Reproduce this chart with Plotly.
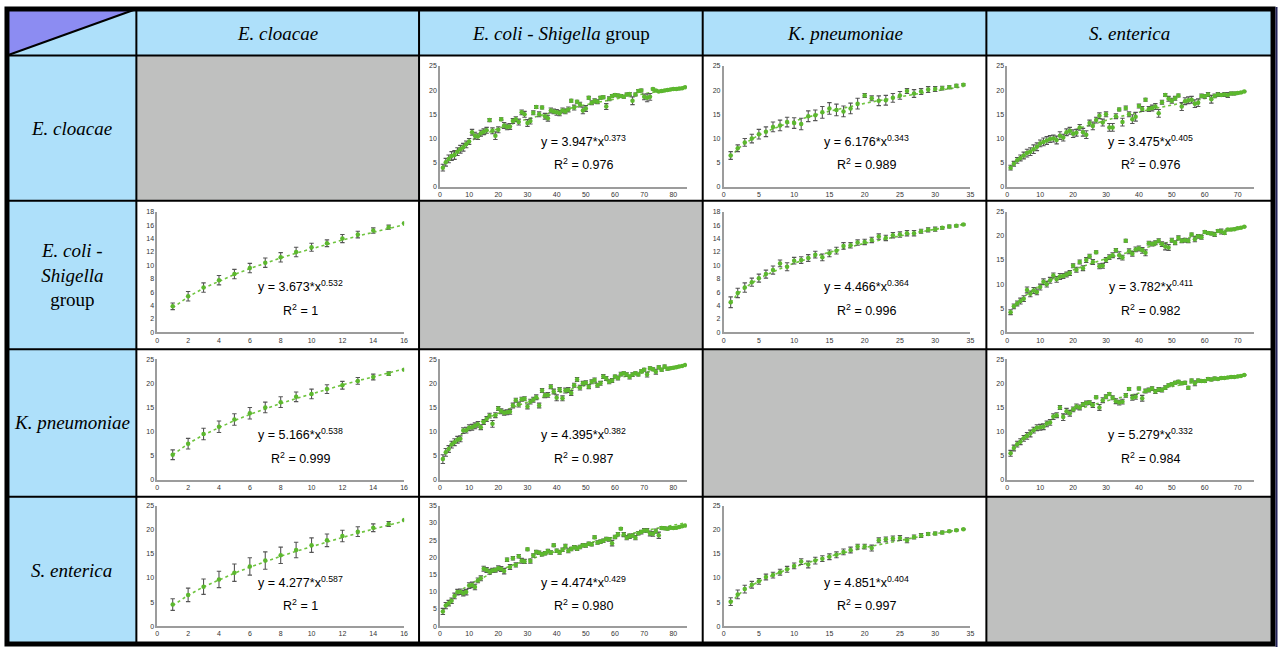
import numpy as np
import plotly.graph_objects as go

W, H = 1284, 654

# ---------------- labels ----------------
col_headers = ["<i>E. cloacae</i>", "<i>E. coli - Shigella</i> group",
               "<i>K. pneumoniae</i>", "<i>S. enterica</i>"]
row_headers = ["<i>E. cloacae</i>", "<i>E. coli -</i><br><i>Shigella</i><br>group",
               "<i>K. pneumoniae</i>", "<i>S. enterica</i>"]

# x positions (number of genomes) per column species
x_cloacae = list(range(1, 17))
x_coli = list(range(1, 85))
x_kpn = list(range(1, 35))
x_sent = list(range(1, 73))
x_max_per_col = [16, 84.6, 35, 75]
x_ticks_per_col = [list(range(0, 17, 2)), list(range(0, 81, 10)),
                   list(range(0, 36, 5)), list(range(0, 71, 10))]

# ---------------- data ----------------
# row E. cloacae / col E. coli
y_r1c2 = [4.0, 5.1, 5.8, 6.4, 6.6, 7.3, 7.8, 8.2, 8.8, 9.4,
          11.3, 10.6, 10.4, 11.1, 11.4, 11.7, 13.8, 11.6, 10.6, 11.8,
          14.0, 12.7, 12.4, 12.5, 13.6, 14.0, 13.4, 15.4, 15.0, 13.2,
          13.6, 15.3, 16.5, 15.0, 16.4, 14.6, 14.2, 15.8, 15.6, 15.4,
          15.2, 15.8, 15.6, 16.0, 17.8, 16.4, 17.6, 17.0, 15.8, 16.2,
          18.4, 17.4, 17.8, 17.6, 18.4, 18.5, 16.6, 18.2, 18.8, 19.0,
          18.9, 18.8, 18.6, 19.1, 19.2, 17.8, 19.1, 19.8, 19.9, 18.6,
          18.4, 18.6, 20.2, 19.9, 19.7, 19.8, 19.9, 20.0, 20.1, 20.2,
          20.2, 20.3, 20.4, 20.6]
e_r1c2 = [0.7, 0.8, 0.8, 0.9, 0.9, 0.8, 0.8, 0.8, 0.7, 0.6,
          0.6, 0.7, 0.6, 0.6, 0.6, 0.6, 0.3, 0.6, 0.8, 0.6,
          0.3, 0.6, 0.6, 0.6, 0.5, 0.5, 0.6, 0.5, 0.6, 0.7,
          0.6, 0.4, 0.3, 0.5, 0.3, 0.6, 0.6, 0.5, 0.5, 0.6,
          0.5, 0.5, 0.5, 0.5, 0.3, 0.5, 0.3, 0.5, 0.7, 0.6,
          0.3, 0.4, 0.4, 0.4, 0.3, 0.3, 0.6, 0.4, 0.3, 0.3,
          0.3, 0.3, 0.3, 0.3, 0.3, 0.8, 0.3, 0.3, 0.3, 0.6,
          0.8, 0.7, 0.2, 0.2, 0.2, 0.2, 0.2, 0.2, 0.2, 0.2,
          0.2, 0.2, 0.1, 0.1]

# row E. cloacae / col K. pneumoniae
y_r1c3 = [6.5, 8.0, 9.2, 10.0, 10.9, 11.4, 12.4, 12.7, 13.4, 13.2,
          13.0, 14.6, 14.8, 15.4, 16.2, 15.9, 15.6, 16.2, 17.2, 18.9,
          18.3, 17.8, 17.9, 18.4, 18.9, 19.8, 19.3, 19.7, 20.1, 20.2,
          20.4, 20.6, 20.9, 21.1]
e_r1c3 = [0.8, 0.7, 0.8, 0.9, 1.0, 1.0, 1.0, 1.1, 1.0, 1.1,
          1.2, 1.1, 1.1, 1.2, 1.2, 1.2, 1.1, 1.1, 1.1, 0.4,
          0.5, 1.0, 1.0, 0.9, 0.8, 0.5, 0.8, 0.6, 0.6, 0.5,
          0.4, 0.3, 0.3, 0.2]

# row E. cloacae / col S. enterica
y_r1c4 = [4.0, 4.8, 5.5, 6.0, 6.5, 7.0, 7.3, 7.8, 8.3, 9.0,
          9.3, 9.6, 9.9, 10.0, 9.7, 10.6, 10.2, 11.3, 11.6, 11.0,
          11.2, 12.3, 11.3, 10.8, 13.2, 12.6, 13.8, 14.7, 13.3, 15.0,
          12.3, 12.3, 14.6, 16.0, 13.4, 16.3, 15.0, 14.0, 14.5, 16.7,
          16.1, 18.0, 16.1, 16.3, 16.6, 15.2, 17.5, 19.0, 18.2, 17.8,
          18.3, 18.9, 16.6, 17.7, 17.9, 18.0, 17.2, 17.4, 18.8, 18.7,
          19.1, 18.1, 18.8, 19.1, 19.0, 19.1, 19.0, 19.3, 19.3, 19.4,
          19.5, 19.7]
e_r1c4 = [0.5, 0.5, 0.6, 0.6, 0.7, 0.8, 0.8, 0.9, 0.8, 0.7,
          0.8, 0.8, 0.7, 0.7, 0.8, 0.8, 0.7, 0.7, 0.7, 0.8,
          0.7, 0.6, 0.8, 0.8, 0.6, 0.8, 0.6, 0.6, 0.7, 0.5,
          0.8, 0.8, 0.5, 0.3, 0.8, 0.4, 0.5, 0.9, 0.9, 0.4,
          0.5, 0.3, 0.5, 0.6, 0.6, 0.8, 0.4, 0.3, 0.5, 0.5,
          0.4, 0.3, 0.8, 0.7, 0.7, 0.7, 0.8, 0.8, 0.4, 0.4,
          0.4, 0.8, 0.4, 0.4, 0.3, 0.4, 0.5, 0.3, 0.3, 0.2,
          0.2, 0.1]

# row E. coli / col E. cloacae
y_r2c1 = [3.9, 5.4, 6.7, 7.8, 8.7, 9.6, 10.4, 11.2, 12.0, 12.7,
          13.3, 14.0, 14.6, 15.2, 15.7, 16.3]
e_r2c1 = [0.5, 0.7, 0.7, 0.7, 0.7, 0.7, 0.7, 0.7, 0.7, 0.6,
          0.5, 0.6, 0.5, 0.4, 0.3, 0.05]

# row E. coli / col K. pneumoniae
y_r2c3 = [4.5, 5.9, 6.7, 7.5, 8.1, 8.7, 9.3, 10.3, 9.8, 10.7,
          10.8, 11.1, 11.6, 11.2, 11.8, 12.2, 12.9, 13.0, 13.4, 13.5,
          13.8, 14.3, 14.1, 14.5, 14.6, 14.8, 14.8, 15.1, 15.3, 15.4,
          15.6, 15.8, 15.9, 16.1]
e_r2c3 = [0.8, 0.7, 0.7, 0.6, 0.6, 0.6, 0.6, 0.5, 0.6, 0.5,
          0.5, 0.5, 0.5, 0.5, 0.5, 0.5, 0.5, 0.4, 0.4, 0.4,
          0.4, 0.4, 0.4, 0.4, 0.4, 0.4, 0.4, 0.3, 0.3, 0.3,
          0.2, 0.2, 0.15, 0.1]

# row E. coli / col S. enterica
y_r2c4 = [4.2, 5.4, 6.0, 6.5, 7.0, 8.8, 8.0, 8.7, 8.4, 9.4,
          10.5, 10.0, 10.8, 11.8, 11.0, 11.6, 11.7, 12.0, 12.3, 13.8,
          13.0, 14.6, 13.3, 15.0, 15.8, 14.6, 16.6, 13.7, 13.8, 15.0,
          15.6, 16.0, 17.0, 16.0, 15.5, 19.0, 16.8, 16.3, 17.2, 17.4,
          17.0, 16.5, 18.5, 18.3, 18.6, 19.0, 18.3, 17.8, 17.6, 19.1,
          18.6, 19.6, 19.0, 19.1, 19.0, 20.3, 19.3, 19.9, 19.7, 20.8,
          20.6, 20.5, 20.3, 21.0, 20.9, 20.6, 21.3, 21.3, 21.4, 21.6,
          21.7, 21.9]
e_r2c4 = [0.5, 0.5, 0.5, 0.6, 0.6, 0.6, 0.6, 0.6, 0.6, 0.6,
          0.6, 0.6, 0.6, 0.5, 0.6, 0.6, 0.5, 0.5, 0.5, 0.4,
          0.5, 0.4, 0.5, 0.5, 0.4, 0.5, 0.3, 0.5, 0.5, 0.5,
          0.5, 0.5, 0.4, 0.7, 0.5, 0.3, 0.5, 0.5, 0.5, 0.5,
          0.6, 0.6, 0.4, 0.4, 0.4, 0.4, 0.5, 0.7, 0.6, 0.4,
          0.4, 0.4, 0.4, 0.4, 0.4, 0.3, 0.5, 0.4, 0.4, 0.3,
          0.3, 0.3, 0.4, 0.3, 0.5, 0.3, 0.2, 0.2, 0.2, 0.2,
          0.1, 0.1]

# row K. pneumoniae / col E. cloacae
y_r3c1 = [5.2, 7.5, 9.5, 11.0, 12.5, 13.8, 15.0, 16.1, 17.2, 17.8,
          18.8, 19.6, 20.5, 21.3, 22.0, 22.8]
e_r3c1 = [1.0, 1.1, 1.2, 1.2, 1.2, 1.2, 1.1, 1.1, 1.0, 1.0,
          0.9, 0.8, 0.7, 0.6, 0.4, 0.1]

# row K. pneumoniae / col E. coli
y_r3c2 = [4.3, 5.7, 6.4, 7.3, 7.8, 8.3, 8.5, 10.2, 10.3, 10.8,
          10.9, 11.2, 11.5, 10.9, 12.0, 12.6, 13.3, 11.6, 13.4, 14.8,
          14.2, 13.9, 14.0, 14.1, 15.4, 16.5, 15.6, 16.7, 16.8, 15.2,
          16.2, 16.6, 17.1, 15.4, 18.5, 17.5, 17.6, 19.3, 18.3, 17.0,
          18.7, 16.9, 18.5, 18.6, 18.0, 19.6, 20.8, 19.1, 20.0, 20.1,
          19.3, 20.3, 20.7, 19.6, 20.0, 21.4, 21.0, 20.3, 20.6, 21.4,
          21.1, 21.9, 22.1, 21.8, 21.3, 21.8, 22.1, 21.8, 22.5, 22.8,
          21.8, 23.1, 22.9, 22.4, 23.3, 22.8, 23.5, 23.0, 23.1, 23.2,
          23.3, 23.5, 23.6, 23.8]
e_r3c2 = [0.9, 0.8, 0.7, 0.7, 0.7, 0.7, 0.6, 0.6, 0.6, 0.6,
          0.6, 0.6, 0.6, 0.5, 0.5, 0.5, 0.5, 0.7, 0.5, 0.4,
          0.5, 0.5, 0.5, 0.5, 0.5, 0.4, 0.5, 0.4, 0.4, 0.5,
          0.5, 0.5, 0.5, 0.5, 0.4, 0.5, 0.5, 0.4, 0.5, 0.6,
          0.4, 0.5, 0.5, 0.5, 0.5, 0.4, 0.4, 0.5, 0.4, 0.4,
          0.4, 0.4, 0.4, 0.4, 0.4, 0.4, 0.4, 0.4, 0.4, 0.3,
          0.4, 0.4, 0.3, 0.4, 0.4, 0.4, 0.3, 0.3, 0.3, 0.3,
          0.5, 0.3, 0.3, 0.5, 0.3, 0.3, 0.3, 0.3, 0.2, 0.2,
          0.2, 0.2, 0.1, 0.1]

# row K. pneumoniae / col S. enterica
y_r3c4 = [5.5, 6.6, 7.4, 7.9, 8.6, 9.1, 9.6, 10.3, 10.8, 10.9,
          11.0, 11.6, 11.9, 13.1, 13.4, 15.0, 13.0, 14.2, 13.8, 14.6,
          15.2, 15.0, 15.6, 15.9, 16.0, 15.5, 17.1, 15.0, 16.5, 17.2,
          17.8, 17.0, 16.3, 16.0, 16.2, 17.5, 18.8, 17.0, 17.2, 18.9,
          16.9, 18.4, 18.6, 18.9, 18.3, 18.7, 18.6, 19.1, 19.6, 19.8,
          20.1, 20.3, 20.0, 20.1, 19.1, 20.6, 20.0, 20.6, 20.5, 20.5,
          20.9, 20.8, 21.0, 20.9, 21.1, 21.1, 21.2, 21.3, 21.3, 21.4,
          21.5, 21.7]
e_r3c4 = [0.6, 0.6, 0.6, 0.6, 0.6, 0.7, 0.7, 0.6, 0.6, 0.6,
          0.6, 0.6, 0.6, 0.6, 0.5, 0.4, 0.7, 0.6, 0.6, 0.5,
          0.5, 0.5, 0.4, 0.4, 0.4, 0.5, 0.3, 0.6, 0.5, 0.4,
          0.3, 0.4, 0.5, 0.5, 0.5, 0.4, 0.3, 0.5, 0.5, 0.3,
          0.6, 0.4, 0.4, 0.4, 0.4, 0.4, 0.4, 0.4, 0.3, 0.3,
          0.3, 0.3, 0.3, 0.3, 0.3, 0.3, 0.5, 0.3, 0.3, 0.3,
          0.3, 0.3, 0.3, 0.2, 0.2, 0.2, 0.2, 0.2, 0.2, 0.1,
          0.1, 0.1]

# row S. enterica / col E. cloacae
y_r4c1 = [4.5, 6.5, 8.2, 9.7, 11.1, 12.4, 13.6, 14.7, 15.8, 16.8,
          17.8, 18.7, 19.6, 20.4, 21.2, 22.0]
e_r4c1 = [1.2, 1.4, 1.6, 1.7, 1.8, 1.8, 1.8, 1.7, 1.6, 1.5,
          1.3, 1.2, 1.0, 0.8, 0.5, 0.1]

# row S. enterica / col E. coli
y_r4c2 = [4.3, 6.0, 6.7, 7.4, 8.8, 9.9, 10.0, 9.6, 9.9, 11.8,
          12.0, 11.4, 13.3, 13.9, 16.7, 16.3, 15.8, 16.2, 16.3, 16.8,
          16.6, 16.0, 19.3, 17.2, 19.7, 17.8, 20.3, 19.0, 18.8, 22.3,
          18.9, 20.5, 21.5, 21.3, 20.9, 21.2, 21.8, 21.4, 23.5, 21.9,
          21.4, 22.2, 23.3, 21.9, 22.4, 22.9, 22.5, 23.0, 23.5, 23.4,
          23.9, 23.8, 25.8, 24.3, 24.5, 24.8, 25.3, 25.2, 24.1, 25.9,
          26.7, 28.3, 26.6, 25.7, 26.1, 26.3, 25.7, 27.0, 27.3, 27.8,
          27.8, 26.9, 26.8, 27.6, 26.4, 28.5, 28.4, 28.3, 28.6, 28.5,
          28.6, 28.8, 29.0, 29.2]
e_r4c2 = [0.9, 0.9, 0.8, 0.8, 0.8, 0.8, 0.8, 0.8, 0.8, 0.8,
          0.8, 0.8, 0.7, 0.7, 0.7, 0.7, 0.7, 0.6, 0.6, 0.7,
          0.7, 0.8, 0.5, 0.7, 0.5, 0.6, 0.5, 0.7, 0.6, 0.4,
          0.6, 0.5, 0.5, 0.5, 0.5, 0.5, 0.5, 0.5, 0.4, 0.5,
          0.5, 0.5, 0.5, 0.6, 0.5, 0.5, 0.5, 0.5, 0.5, 0.5,
          0.5, 0.5, 0.4, 0.5, 0.5, 0.5, 0.5, 0.5, 0.8, 0.5,
          0.5, 0.3, 0.6, 0.6, 0.6, 0.5, 0.6, 0.5, 0.5, 0.5,
          0.5, 0.7, 0.7, 0.6, 0.9, 0.4, 0.4, 0.4, 0.3, 0.3,
          0.3, 0.2, 0.2, 0.1]

# row S. enterica / col K. pneumoniae
y_r4c3 = [5.1, 6.6, 7.7, 8.6, 9.3, 10.2, 10.6, 11.2, 11.8, 12.5,
          13.4, 12.8, 13.6, 14.0, 14.4, 14.8, 15.4, 15.8, 16.5, 16.5,
          16.2, 17.8, 18.0, 18.2, 18.3, 17.8, 18.5, 18.8, 19.1, 19.2,
          19.4, 19.7, 19.9, 20.1]
e_r4c3 = [0.8, 0.9, 0.8, 0.7, 0.6, 0.6, 0.6, 0.6, 0.6, 0.6,
          0.6, 0.7, 0.7, 0.6, 0.6, 0.6, 0.6, 0.6, 0.5, 0.5,
          0.6, 0.5, 0.5, 0.5, 0.5, 0.5, 0.4, 0.4, 0.3, 0.3,
          0.3, 0.2, 0.2, 0.1]

# fitted power-law coefficients (y = a * x^b) and R^2 as printed
fit_a = {(1, 2): 3.947, (1, 3): 6.176, (1, 4): 3.475,
         (2, 1): 3.673, (2, 3): 4.466, (2, 4): 3.782,
         (3, 1): 5.166, (3, 2): 4.395, (3, 4): 5.279,
         (4, 1): 4.277, (4, 2): 4.474, (4, 3): 4.851}
fit_b = {(1, 2): 0.373, (1, 3): 0.343, (1, 4): 0.405,
         (2, 1): 0.532, (2, 3): 0.364, (2, 4): 0.411,
         (3, 1): 0.538, (3, 2): 0.382, (3, 4): 0.332,
         (4, 1): 0.587, (4, 2): 0.429, (4, 3): 0.404}
fit_r2 = {(1, 2): "0.976", (1, 3): "0.989", (1, 4): "0.976",
          (2, 1): "1", (2, 3): "0.996", (2, 4): "0.982",
          (3, 1): "0.999", (3, 2): "0.987", (3, 4): "0.984",
          (4, 1): "1", (4, 2): "0.980", (4, 3): "0.997"}
y_max = {(1, 2): 25, (1, 3): 25, (1, 4): 25,
         (2, 1): 18, (2, 3): 18, (2, 4): 25,
         (3, 1): 25, (3, 2): 25, (3, 4): 25,
         (4, 1): 25, (4, 2): 35, (4, 3): 25}

series = {(1, 2): (y_r1c2, e_r1c2), (1, 3): (y_r1c3, e_r1c3), (1, 4): (y_r1c4, e_r1c4),
          (2, 1): (y_r2c1, e_r2c1), (2, 3): (y_r2c3, e_r2c3), (2, 4): (y_r2c4, e_r2c4),
          (3, 1): (y_r3c1, e_r3c1), (3, 2): (y_r3c2, e_r3c2), (3, 4): (y_r3c4, e_r3c4),
          (4, 1): (y_r4c1, e_r4c1), (4, 2): (y_r4c2, e_r4c2), (4, 3): (y_r4c3, e_r4c3)}
x_per_col = {1: x_cloacae, 2: x_coli, 3: x_kpn, 4: x_sent}

# ---------------- geometry (pixels) ----------------
col_edges = [5, 135, 419, 704, 989, 1277]
row_edges = [5, 52, 199, 349, 498, 647]
plot_y_px = {1: (62.5, 185), 2: (210, 332), 3: (359, 481), 4: (507, 629)}


def px(x):
    return x / W


def py(y):
    return 1 - y / H


HEAD_BLUE = "#aee0fa"
CORNER_PURPLE = "#8c8cf2"
DIAG_GRAY = "#bfc0bf"
GREEN = "#5cb82e"
TREND = "#6fc43f"
ERRC = "#555555"

fig = go.Figure()
shapes = []
annotations = []

# background fills
shapes.append(dict(type="rect", xref="paper", yref="paper", layer="below",
                   x0=px(col_edges[0]), x1=px(col_edges[5]), y0=py(row_edges[0]), y1=py(row_edges[1]),
                   fillcolor=HEAD_BLUE, line=dict(width=0)))
shapes.append(dict(type="rect", xref="paper", yref="paper", layer="below",
                   x0=px(col_edges[0]), x1=px(col_edges[1]), y0=py(row_edges[0]), y1=py(row_edges[5]),
                   fillcolor=HEAD_BLUE, line=dict(width=0)))
shapes.append(dict(type="path", xref="paper", yref="paper", layer="below",
                   path=f"M {px(col_edges[0])},{py(row_edges[1])} L {px(col_edges[1])},{py(row_edges[0])} "
                        f"L {px(col_edges[0])},{py(row_edges[0])} Z",
                   fillcolor=CORNER_PURPLE, line=dict(width=0)))
for k in range(1, 5):
    shapes.append(dict(type="rect", xref="paper", yref="paper", layer="below",
                       x0=px(col_edges[k]), x1=px(col_edges[k + 1]),
                       y0=py(row_edges[k]), y1=py(row_edges[k + 1]),
                       fillcolor=DIAG_GRAY, line=dict(width=0)))

# diagonal line in corner
shapes.append(dict(type="line", xref="paper", yref="paper",
                   x0=px(col_edges[0]), y0=py(row_edges[1]), x1=px(col_edges[1]), y1=py(row_edges[0]),
                   line=dict(color="black", width=2)))
# grid lines
for xe in col_edges[1:5]:
    shapes.append(dict(type="line", xref="paper", yref="paper",
                       x0=px(xe), x1=px(xe), y0=py(row_edges[0]), y1=py(row_edges[5]),
                       line=dict(color="black", width=2)))
for ye in row_edges[1:5]:
    shapes.append(dict(type="line", xref="paper", yref="paper",
                       x0=px(col_edges[0]), x1=px(col_edges[5]), y0=py(ye), y1=py(ye),
                       line=dict(color="black", width=2)))
# outer border
shapes.append(dict(type="rect", xref="paper", yref="paper",
                   x0=px(col_edges[0]), x1=px(col_edges[5]), y0=py(row_edges[0]), y1=py(row_edges[5]),
                   line=dict(color="black", width=5)))
shapes.append(dict(type="line", xref="paper", yref="paper",
                   x0=px(1280.5), x1=px(1280.5), y0=py(3), y1=py(650),
                   line=dict(color="#23235a", width=2)))

# headers
for k in range(4):
    annotations.append(dict(xref="paper", yref="paper", showarrow=False,
                            x=px((col_edges[k + 1] + col_edges[k + 2]) / 2),
                            y=py((row_edges[0] + row_edges[1]) / 2 + 1),
                            text=col_headers[k], xanchor="center", yanchor="middle",
                            font=dict(family="Liberation Serif", size=19, color="black")))
    annotations.append(dict(xref="paper", yref="paper", showarrow=False,
                            x=px((col_edges[0] + col_edges[1]) / 2),
                            y=py((row_edges[k + 1] + row_edges[k + 2]) / 2),
                            text=row_headers[k], xanchor="center", yanchor="middle",
                            font=dict(family="Liberation Serif", size=19, color="black")))

layout_axes = {}
idx = 0
for (r, c), (yv, ev) in series.items():
    idx += 1
    xs = x_per_col[c]
    xname = "x" if idx == 1 else f"x{idx}"
    yname = "y" if idx == 1 else f"y{idx}"
    a, b = fit_a[(r, c)], fit_b[(r, c)]
    xa = np.array(xs, dtype=float)
    fig.add_trace(go.Scatter(x=xs, y=a * xa ** b, mode="lines", xaxis=xname, yaxis=yname,
                             line=dict(color=TREND, dash="dot", width=1.6), hoverinfo="skip",
                             showlegend=False))
    fig.add_trace(go.Scatter(x=xs, y=yv, mode="markers", xaxis=xname, yaxis=yname,
                             marker=dict(size=4.5, color=GREEN),
                             error_y=dict(type="data", array=ev, color=ERRC, thickness=1.1, width=2.2),
                             showlegend=False))
    x0p = col_edges[c] + 21
    x1p = col_edges[c] + 269
    y0p, y1p = plot_y_px[r]
    ym = y_max[(r, c)]
    dt = 2 if ym == 18 else 5
    axis_common = dict(showline=True, linecolor="#9c9c9c", linewidth=1.5, showgrid=False,
                       zeroline=False, ticks="", tickfont=dict(family="Liberation Sans", size=7, color="#333333"))
    layout_axes["xaxis" if idx == 1 else f"xaxis{idx}"] = dict(
        domain=[px(x0p), px(x1p)], range=[0, x_max_per_col[c - 1]], anchor=yname,
        tickmode="array", tickvals=x_ticks_per_col[c - 1], **axis_common)
    layout_axes["yaxis" if idx == 1 else f"yaxis{idx}"] = dict(
        domain=[py(y1p), py(y0p)], range=[0, ym], anchor=xname,
        tickmode="linear", tick0=0, dtick=dt, **axis_common)
    cx = col_edges[c] + 165
    rt = row_edges[r]
    annotations.append(dict(xref="paper", yref="paper", showarrow=False, x=px(cx), y=py(rt + 86),
                            text=f"y = {a:.3f}*x<sup>{b:.3f}</sup>", xanchor="center", yanchor="middle",
                            font=dict(family="Liberation Sans", size=12.5, color="black")))
    annotations.append(dict(xref="paper", yref="paper", showarrow=False, x=px(cx), y=py(rt + 110),
                            text=f"R<sup>2</sup> = {fit_r2[(r, c)]}", xanchor="center", yanchor="middle",
                            font=dict(family="Liberation Sans", size=12.5, color="black")))

fig.update_layout(width=W, height=H, margin=dict(l=0, r=0, t=0, b=0),
                  paper_bgcolor="white", plot_bgcolor="rgba(0,0,0,0)",
                  shapes=shapes, annotations=annotations, showlegend=False, **layout_axes)

fig.write_html("out.html", config={"displayModeBar": False},
               post_script="document.body.style.margin='0';document.body.style.padding='0';"
                           "document.body.style.overflow='hidden';")
